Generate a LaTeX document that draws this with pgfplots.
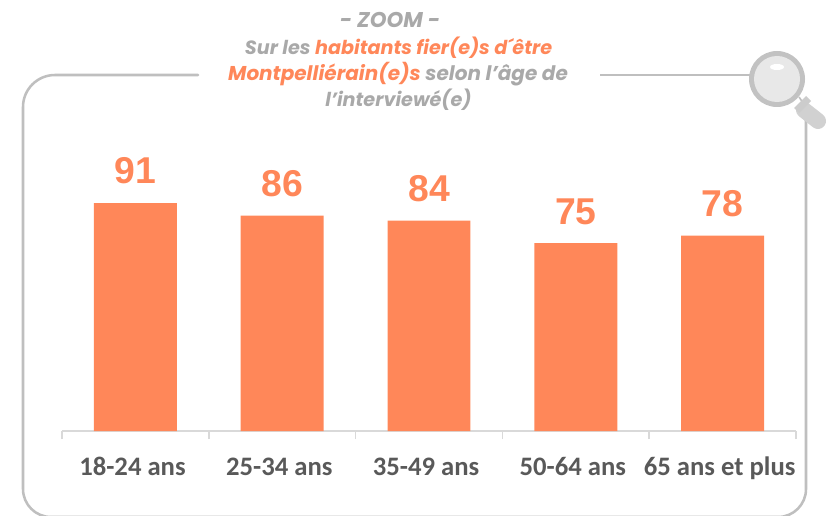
\documentclass[border=0pt]{standalone}
\usepackage{pgfplots}
\pgfplotsset{compat=1.18}
\usepackage{fontspec}
\setmainfont{Liberation Sans}
\newfontfamily\titlefont{Poppins}
\newfontfamily\tickfont{Carlito}
\definecolor{bar}{HTML}{FF8759}
\definecolor{frameg}{HTML}{BFBFBF}
\definecolor{titleg}{HTML}{A9A9A9}
\definecolor{tickg}{HTML}{595959}
\pgfplotstableread{
x v
0 91
1 86
2 84
3 75
4 78
}\datatable
\begin{document}
\begin{tikzpicture}[x=0.75pt,y=0.75pt]
\path[use as bounding box] (0,0) rectangle (830,515);
\begin{scope}
\clip (0,0) rectangle (830,515);
\draw[frameg,line width=1.9pt,line cap=round] (198,440) -- (55,440) arc[start angle=90,end angle=180,radius=32] -- (23,26) arc[start angle=180,end angle=270,radius=28] -- (778,-2) arc[start angle=270,end angle=360,radius=28] -- (806,397);
\draw[frameg,line width=1.9pt] (600,440) -- (752,440);
\end{scope}
% magnifier
\draw[line width=1.2pt,color=frameg] (799,418) -- (808,405);
\draw[line width=12pt,line cap=round,color=black!18] (804,405) -- (818,394);
\fill[color=black!20] (794,407) -- (806,419) -- (811,414) -- (799,402) -- cycle;
\fill[color=black!24!white] (777,436) circle[radius=28];
\fill[color=black!9] (777,436) circle[radius=23];
\fill[white] (777,448) ellipse[x radius=7,y radius=3];
% titles
\node[font=\titlefont\itshape\bfseries\fontsize{16pt}{20pt}\selectfont,text=titleg] at (390,495) {- ZOOM -};
\node[font=\titlefont\itshape\bfseries\fontsize{14.4pt}{18pt}\selectfont,text=titleg] at (398.5,467) {Sur les \textcolor{bar}{habitants fier(e)s d´être}};
\node[font=\titlefont\itshape\bfseries\fontsize{15pt}{18pt}\selectfont,text=titleg] at (398,441) {\textcolor{bar}{Montpelliérain(e)s} selon l’âge de};
\node[font=\titlefont\itshape\bfseries\fontsize{14.4pt}{18pt}\selectfont,text=titleg] at (398.5,415) {l’interviewé(e)};
\begin{axis}[
  at={(46.5pt,63pt)},anchor=south west,
  scale only axis,width=550.5pt,height=187.9pt,
  xmin=-0.5,xmax=4.5,ymin=0,ymax=100,
  axis x line=bottom,axis y line=none,
  x axis line style={-,color=black!15,line width=1.1pt},
  xtick={0,1,2,3,4},
  xticklabels={18-24 ans,25-34 ans,35-49 ans,50-64 ans,65 ans et plus},
  major tick length=0pt,
  minor xtick={-0.5,0.5,1.5,2.5,3.5,4.5},
  minor tick length=6pt,
  every minor tick/.style={color=black!15,line width=1.1pt},
  tick align=outside,
  tick label style={font=\tickfont\bfseries\fontsize{20pt}{22pt}\selectfont,text=tickg,text height=13.5pt,text depth=3pt},
  xticklabel style={yshift=-16pt,xshift=-2.2pt},
  ybar,bar width=62.2pt,
  nodes near coords,
  every node near coord/.style={font=\bfseries\fontsize{28pt}{30pt}\selectfont,text=bar,yshift=10.5pt,
    /pgf/number format/assume math mode=true},
  clip=false,
]
\addplot[fill=bar,draw=none] table[x=x,y=v] {\datatable};
\end{axis}
\end{tikzpicture}
\end{document}
